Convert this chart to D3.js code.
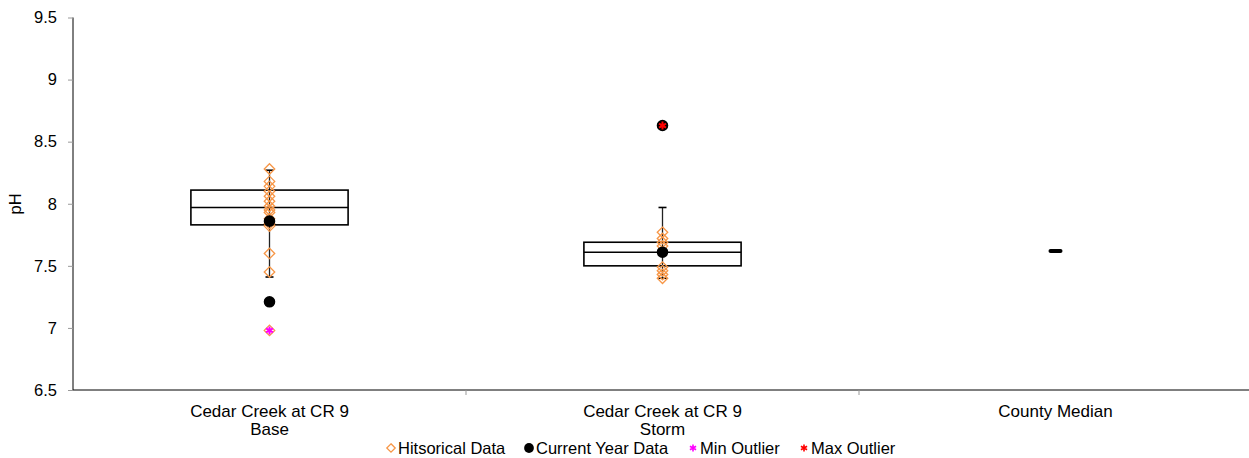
<!DOCTYPE html>
<html>
<head>
<meta charset="utf-8">
<script src="https://cdn.jsdelivr.net/npm/d3@7"></script>
<style>
  body { margin: 0; background: #fff; }
  svg { display: block; font-family: "Liberation Sans", Arial, sans-serif; }
</style>
</head>
<body>
<svg id="chart" width="1249" height="458"></svg>
<script>
// categories and box stats
const categories = ["Cedar Creek at CR 9|Base", "Cedar Creek at CR 9|Storm", "County Median"]
const boxLow = [7.41, 7.40, null]
const boxQ1 = [7.83, 7.50, null]
const boxMedian = [7.97, 7.61, 7.62]
const boxQ3 = [8.11, 7.69, null]
const boxHigh = [8.27, 7.97, null]

const historical = [
  [8.28, 8.18, 8.14, 8.10, 8.06, 8.02, 7.98, 7.95, 7.93, 7.88, 7.84, 7.82, 7.60, 7.45, 6.98],
  [7.77, 7.72, 7.69, 7.66, 7.49, 7.46, 7.43, 7.40],
  []
]
const currentYear = [[7.86, 7.21], [7.61, 8.63], []]
const minOutliers = [[6.98], [], []]
const maxOutliers = [[], [8.63], []]

const yTicks = [6.5, 7, 7.5, 8, 8.5, 9, 9.5]
const legendItems = ["Hitsorical Data", "Current Year Data", "Min Outlier", "Max Outlier"]

const svg = d3.select("#chart")
const orange = "#f79646"

const x = d3.scaleBand().domain(categories).range([73, 1252]).padding(0)
const y = d3.scaleLinear().domain([6.5, 9.5]).range([390, 17.5])
const boxW = x.bandwidth() * 0.4

// y axis
let yAxis = svg.append("g")
  .attr("transform", "translate(73,0)")
  .call(d3.axisLeft(y).tickValues(yTicks).tickSize(5).tickPadding(11).tickFormat(d3.format("")))
yAxis.select(".domain").attr("stroke", "#000").attr("d", "M0,17.5V390")
yAxis.selectAll(".tick line").attr("stroke", "#999")
yAxis.selectAll("text").attr("font-size", 16.5).attr("fill", "#000").attr("font-family", "Liberation Sans, Arial")

svg.append("text")
  .attr("transform", "translate(21,204) rotate(-90)")
  .attr("text-anchor", "middle")
  .attr("font-size", 16.5)
  .text("pH")

// x axis
svg.append("line")
  .attr("x1", 73).attr("x2", 1252)
  .attr("y1", y(6.5)).attr("y2", y(6.5))
  .attr("stroke", "#000")
svg.selectAll(".xtick")
  .data(categories.slice(1))
  .enter().append("line")
  .attr("x1", d => x(d)).attr("x2", d => x(d))
  .attr("y1", y(6.5)).attr("y2", y(6.5) + 5)
  .attr("stroke", "#999")

let xLabels = svg.selectAll(".xlabel")
  .data(categories)
  .enter().append("text")
  .attr("text-anchor", "middle")
  .attr("font-size", 17)
xLabels.selectAll("tspan")
  .data(d => d.split("|").map(t => ({t: t, c: x(d) + x.bandwidth() / 2})))
  .enter().append("tspan")
  .attr("x", d => d.c)
  .attr("y", (d, i) => 417 + i * 18)
  .text(d => d.t)

// boxes
categories.forEach((cat, i) => {
  let cx = x(cat) + x.bandwidth() / 2
  let g = svg.append("g")
  if (boxQ1[i] !== null) {
    g.append("line")
      .attr("x1", cx).attr("x2", cx)
      .attr("y1", y(boxHigh[i])).attr("y2", y(boxLow[i]))
      .attr("stroke", "#222").attr("stroke-width", 1.3)
    ;[boxHigh[i], boxLow[i]].forEach(v => {
      g.append("line")
        .attr("x1", cx - 4).attr("x2", cx + 4)
        .attr("y1", y(v)).attr("y2", y(v))
        .attr("stroke", "#000").attr("stroke-width", 1.6)
    })
    g.append("rect")
      .attr("x", cx - boxW / 2).attr("width", boxW)
      .attr("y", y(boxQ3[i])).attr("height", y(boxQ1[i]) - y(boxQ3[i]))
      .attr("fill", "none")
      .attr("stroke", "#000").attr("stroke-width", 1.6)
    g.append("line")
      .attr("x1", cx - boxW / 2).attr("x2", cx + boxW / 2)
      .attr("y1", y(boxMedian[i])).attr("y2", y(boxMedian[i]))
      .attr("stroke", "#000").attr("stroke-width", 1.6)
  } else {
    g.append("line")
      .attr("x1", cx - 5).attr("x2", cx + 5)
      .attr("y1", y(boxMedian[i])).attr("y2", y(boxMedian[i]))
      .attr("stroke", "#000").attr("stroke-width", 4)
      .attr("stroke-linecap", "round")
  }
})

// marker symbols
const diamond = d3.symbol().type(d3.symbolDiamond2).size(70)
const circle = d3.symbol().type(d3.symbolCircle).size(105)
const asterisk = d3.symbol().type(d3.symbolAsterisk).size(45)

function drawPoints (values, sym, style) {
  categories.forEach((cat, i) => {
    let cx = x(cat) + x.bandwidth() / 2
    svg.selectAll(null)
      .data(values[i])
      .enter().append("path")
      .attr("d", sym)
      .attr("transform", d => `translate(${cx},${y(d)})`)
      .attr("fill", style.fill)
      .attr("stroke", style.stroke)
      .attr("stroke-width", style.width)
  })
}

drawPoints(historical, diamond, {fill: "none", stroke: orange, width: 1.3})
drawPoints(currentYear, circle, {fill: "#000", stroke: "none", width: 0})
drawPoints(minOutliers, asterisk, {fill: "none", stroke: "#ff00ff", width: 2})
drawPoints(maxOutliers, asterisk, {fill: "none", stroke: "#ff0000", width: 2})

// legend
const legendSym = [
  {sym: d3.symbol().type(d3.symbolDiamond2).size(45), fill: "none", stroke: orange, width: 1.3},
  {sym: d3.symbol().type(d3.symbolCircle).size(75), fill: "#000", stroke: "none", width: 0},
  {sym: d3.symbol().type(d3.symbolAsterisk).size(35), fill: "none", stroke: "#ff00ff", width: 1.6},
  {sym: d3.symbol().type(d3.symbolAsterisk).size(35), fill: "none", stroke: "#ff0000", width: 1.6}
]
const legendX = [391, 529, 693, 804]
let legend = svg.append("g")
legendItems.forEach((t, i) => {
  legend.append("path")
    .attr("d", legendSym[i].sym)
    .attr("transform", `translate(${legendX[i]},448)`)
    .attr("fill", legendSym[i].fill)
    .attr("stroke", legendSym[i].stroke)
    .attr("stroke-width", legendSym[i].width)
  legend.append("text")
    .attr("x", legendX[i] + 7)
    .attr("y", 454)
    .attr("font-size", 16.5)
    .text(t)
})
</script>
</body>
</html>
